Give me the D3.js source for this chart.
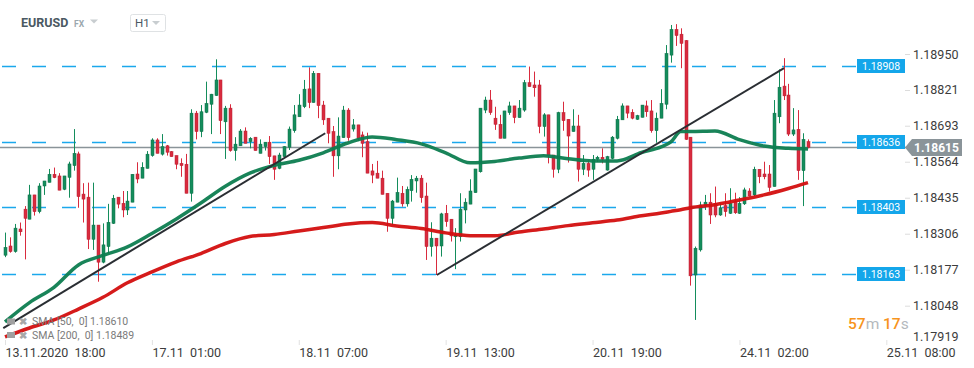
<!DOCTYPE html>
<html>
<head>
<meta charset="utf-8">
<script src="https://cdn.jsdelivr.net/npm/d3@7"></script>
<style>
body { margin: 0; background: #fff; font-family: Roboto, "Noto Sans", sans-serif; }
</style>
</head>
<body>
<script>
// EURUSD H1 candles, 13.11.2020 18:00 onwards (one entry per hour)
var open = [1.18229,1.18262,1.18242,1.18323,1.18394,1.18358,1.18445,1.18385,1.18477,1.18490,
1.18519,1.18513,1.18465,1.18508,1.18550,1.18592,1.18448,1.18437,1.18286,1.18337,
1.18204,1.18260,1.18343,1.18437,1.18415,1.18391,1.18419,1.18520,1.18505,1.18540,
1.18586,1.18642,1.18591,1.18621,1.18600,1.18586,1.18558,1.18555,1.18451,1.18738,
1.18672,1.18741,1.18770,1.18801,1.18857,1.18707,1.18756,1.18604,1.18621,1.18674,
1.18636,1.18652,1.18594,1.18618,1.18634,1.18585,1.18540,1.18582,1.18616,1.18675,
1.18725,1.18761,1.18825,1.18776,1.18881,1.18767,1.18720,1.18672,1.18585,1.18650,
1.18749,1.18681,1.18696,1.18660,1.18636,1.18531,1.18523,1.18505,1.18451,1.18361,
1.18419,1.18451,1.18413,1.18460,1.18495,1.18505,1.18441,1.18260,1.18290,1.18262,
1.18379,1.18358,1.18295,1.18295,1.18391,1.18412,1.18453,1.18528,1.18749,1.18785,
1.18720,1.18698,1.18648,1.18740,1.18764,1.18722,1.18749,1.18847,1.18839,1.18839,
1.18690,1.18732,1.18588,1.18537,1.18740,1.18716,1.18672,1.18692,1.18537,1.18558,
1.18537,1.18573,1.18580,1.18534,1.18576,1.18648,1.18714,1.18764,1.18741,1.18716,
1.18723,1.18764,1.18746,1.18675,1.18720,1.18770,1.18946,1.19038,1.19021,1.18998,
1.18652,1.18158,1.18248,1.18405,1.18419,1.18415,1.18373,1.18407,1.18379,1.18421,
1.18379,1.18413,1.18459,1.18445,1.18537,1.18520,1.18520,1.18475,1.18725,1.18835,
1.18803,1.18663,1.18680,1.18532,1.18636];
var high = [1.18310,1.18293,1.18341,1.18346,1.18405,1.18481,1.18445,1.18487,1.18495,1.18538,
1.18543,1.18523,1.18513,1.18564,1.18681,1.18600,1.18487,1.18489,1.18489,1.18337,
1.18343,1.18413,1.18445,1.18437,1.18459,1.18459,1.18519,1.18562,1.18562,1.18602,
1.18648,1.18648,1.18663,1.18624,1.18602,1.18586,1.18576,1.18592,1.18752,1.18746,
1.18767,1.18851,1.18807,1.18931,1.18857,1.18764,1.18770,1.18652,1.18681,1.18687,
1.18652,1.18652,1.18644,1.18634,1.18656,1.18585,1.18596,1.18620,1.18690,1.18767,
1.18806,1.18857,1.18902,1.18889,1.18881,1.18782,1.18720,1.18692,1.18723,1.18764,
1.18756,1.18717,1.18696,1.18672,1.18668,1.18556,1.18567,1.18532,1.18451,1.18427,
1.18507,1.18477,1.18475,1.18516,1.18513,1.18516,1.18489,1.18347,1.18290,1.18381,
1.18409,1.18358,1.18326,1.18451,1.18433,1.18501,1.18538,1.18756,1.18797,1.18821,
1.18761,1.18732,1.18746,1.18779,1.18764,1.18785,1.18857,1.18905,1.18887,1.18857,
1.18738,1.18732,1.18588,1.18743,1.18779,1.18716,1.18752,1.18732,1.18588,1.18570,
1.18588,1.18585,1.18612,1.18585,1.18656,1.18728,1.18773,1.18764,1.18752,1.18732,
1.18767,1.18783,1.18785,1.18740,1.18824,1.18982,1.19054,1.19057,1.19042,1.19000,
1.18652,1.18260,1.18421,1.18445,1.18451,1.18475,1.18415,1.18451,1.18469,1.18453,
1.18437,1.18471,1.18469,1.18546,1.18537,1.18564,1.18552,1.18785,1.18895,1.18935,
1.18843,1.18756,1.18749,1.18666,1.18644];
var low = [1.18222,1.18238,1.18238,1.18299,1.18214,1.18358,1.18371,1.18379,1.18445,1.18490,
1.18505,1.18462,1.18462,1.18435,1.18532,1.18399,1.18346,1.18251,1.18248,1.18134,
1.18200,1.18236,1.18341,1.18397,1.18365,1.18373,1.18419,1.18487,1.18505,1.18540,
1.18582,1.18594,1.18586,1.18586,1.18582,1.18537,1.18510,1.18451,1.18421,1.18644,
1.18652,1.18738,1.18663,1.18800,1.18663,1.18574,1.18600,1.18568,1.18621,1.18630,
1.18612,1.18604,1.18594,1.18604,1.18556,1.18499,1.18537,1.18582,1.18606,1.18668,
1.18725,1.18756,1.18756,1.18776,1.18720,1.18696,1.18630,1.18510,1.18537,1.18650,
1.18639,1.18672,1.18638,1.18580,1.18523,1.18487,1.18505,1.18447,1.18313,1.18337,
1.18419,1.18403,1.18403,1.18421,1.18453,1.18417,1.18212,1.18224,1.18158,1.18224,
1.18331,1.18278,1.18179,1.18278,1.18343,1.18412,1.18453,1.18525,1.18738,1.18732,
1.18678,1.18648,1.18648,1.18732,1.18702,1.18722,1.18743,1.18833,1.18797,1.18666,
1.18654,1.18558,1.18507,1.18523,1.18675,1.18561,1.18672,1.18493,1.18516,1.18510,
1.18499,1.18563,1.18558,1.18532,1.18573,1.18644,1.18714,1.18720,1.18716,1.18714,
1.18723,1.18725,1.18668,1.18632,1.18720,1.18752,1.18919,1.18979,1.18899,1.18642,
1.18120,1.17997,1.18242,1.18391,1.18341,1.18365,1.18370,1.18367,1.18377,1.18377,
1.18377,1.18409,1.18439,1.18441,1.18487,1.18501,1.18457,1.18475,1.18702,1.18785,
1.18656,1.18656,1.18499,1.18405,1.18612];
var close = [1.18257,1.18242,1.18326,1.18313,1.18361,1.18445,1.18385,1.18477,1.18495,1.18519,
1.18507,1.18462,1.18513,1.18556,1.18594,1.18439,1.18430,1.18286,1.18337,1.18204,
1.18266,1.18347,1.18433,1.18412,1.18391,1.18423,1.18519,1.18502,1.18544,1.18591,
1.18642,1.18594,1.18618,1.18598,1.18582,1.18555,1.18550,1.18451,1.18738,1.18672,
1.18743,1.18773,1.18806,1.18857,1.18711,1.18756,1.18604,1.18627,1.18674,1.18630,
1.18648,1.18604,1.18627,1.18634,1.18582,1.18537,1.18588,1.18618,1.18681,1.18732,
1.18767,1.18824,1.18776,1.18881,1.18765,1.18714,1.18666,1.18585,1.18656,1.18749,
1.18650,1.18696,1.18648,1.18630,1.18523,1.18516,1.18505,1.18447,1.18361,1.18423,
1.18454,1.18413,1.18465,1.18501,1.18505,1.18435,1.18260,1.18290,1.18262,1.18377,
1.18349,1.18298,1.18302,1.18394,1.18419,1.18459,1.18538,1.18756,1.18785,1.18740,
1.18698,1.18648,1.18746,1.18764,1.18722,1.18756,1.18847,1.18833,1.18829,1.18690,
1.18732,1.18585,1.18537,1.18740,1.18711,1.18656,1.18692,1.18537,1.18558,1.18534,
1.18573,1.18580,1.18573,1.18582,1.18652,1.18716,1.18764,1.18738,1.18720,1.18729,
1.18767,1.18743,1.18675,1.18720,1.18773,1.18952,1.19038,1.19016,1.18988,1.18644,
1.18155,1.18254,1.18409,1.18419,1.18373,1.18373,1.18399,1.18385,1.18415,1.18381,
1.18415,1.18463,1.18441,1.18537,1.18510,1.18510,1.18472,1.18738,1.18831,1.18800,
1.18663,1.18678,1.18532,1.18644,1.18615];

// moving averages at these candle positions
var smaIdx = [0,5,10,15,20,25,30,35,40,45,50,55,60,65,70,75,80,85,90,95,100,105,110,115,120,125,130,134,136,138,140,145,150,155,160,164];
var sma50 = [1.17990,1.18059,1.18114,1.18194,1.18228,1.18259,1.18307,1.18359,1.18416,1.18476,1.18523,1.18551,1.18569,1.18596,1.18631,1.18653,1.18643,1.18628,1.18596,1.18560,1.18565,1.18577,1.18585,1.18575,1.18567,1.18567,1.18597,1.18617,1.18635,1.18672,1.18672,1.18674,1.18643,1.18620,1.18612,1.18610];
var sma200 = [1.17936,1.17968,1.17997,1.18036,1.18078,1.18130,1.18169,1.18205,1.18235,1.18271,1.18296,1.18303,1.18316,1.18328,1.18341,1.18346,1.18334,1.18325,1.18309,1.18299,1.18299,1.18312,1.18323,1.18335,1.18345,1.18355,1.18370,1.18380,1.18386,1.18392,1.18399,1.18410,1.18427,1.18445,1.18468,1.18489];

// hand-drawn trend lines: [candle index, price]
var trendA = [[-0.35, 1.17968], [65.4, 1.18666]];
var trendB = [[88.2, 1.18158], [159.1, 1.18899]];

var levels = [1.18908, 1.18636, 1.18403, 1.18163];
var lastPrice = 1.18615;

var yTicks = [1.18950, 1.18821, 1.18693, 1.18564, 1.18435, 1.18306, 1.18177, 1.18048, 1.17919];
var xTickIdx = [0, 30, 60, 90, 120, 150, 180];
var xTickLabels = ["13.11.2020  18:00", "17.11  01:00", "18.11  07:00", "19.11  13:00", "20.11  19:00", "24.11  02:00", "25.11  08:00"];

var W = 974, H = 368;
var up = "#148d5c", down = "#d92b3e";

var svg = d3.select("body").append("svg")
    .attr("width", W)
    .attr("height", H)
    .style("display", "block");

var x = d3.scaleLinear().domain([0, 164]).range([5, 808]);
var y = d3.scaleLinear().domain([1.17919, 1.18950]).range([341.7, 54]);

// dashed levels
svg.selectAll(".level")
    .data(levels)
    .enter()
    .append("line")
    .attr("class", "level")
    .attr("x1", 2).attr("x2", 856)
    .attr("y1", function(d){ return Math.round(y(d)) + 0.5; })
    .attr("y2", function(d){ return Math.round(y(d)) + 0.5; })
    .style("stroke", "#1ba8ec")
    .style("stroke-width", 1.3)
    .style("stroke-dasharray", "14,16");

// last price line
svg.append("line")
    .attr("x1", 0).attr("x2", 906)
    .attr("y1", y(lastPrice)).attr("y2", y(lastPrice))
    .style("stroke", "#8a9499")
    .style("stroke-width", 1.5);

// candles
var candle = svg.selectAll(".candle")
    .data(open)
    .enter()
    .append("g")
    .attr("class", "candle");

candle.append("line")
    .attr("x1", function(d, i){ return Math.round(x(i)) + 0.5; })
    .attr("x2", function(d, i){ return Math.round(x(i)) + 0.5; })
    .attr("y1", function(d, i){ return y(high[i]); })
    .attr("y2", function(d, i){ return y(low[i]); })
    .style("stroke", function(d, i){ return close[i] >= d ? up : down; })
    .style("stroke-width", 1);

candle.append("rect")
    .attr("x", function(d, i){ return Math.round(x(i)) - 1; })
    .attr("width", 3)
    .attr("y", function(d, i){ return y(Math.max(d, close[i])); })
    .attr("height", function(d, i){ return Math.max(1.5, Math.abs(y(d) - y(close[i]))); })
    .style("fill", function(d, i){ return close[i] >= d ? up : down; })
    .style("stroke", function(d, i){ return close[i] >= d ? "#0e6e47" : "#b81f30"; })
    .style("stroke-width", 0.5);

// moving averages
var smaLine = d3.line()
    .x(function(d){ return x(d[0]); })
    .y(function(d){ return y(d[1]); })
    .curve(d3.curveMonotoneX);

svg.append("path")
    .datum(smaIdx.map(function(d, i){ return [d, sma200[i]]; }))
    .attr("d", smaLine)
    .style("fill", "none")
    .style("stroke", "#d30f0f")
    .style("stroke-width", 3.5)
    .style("stroke-opacity", 0.95);

svg.append("path")
    .datum(smaIdx.map(function(d, i){ return [d, sma50[i]]; }))
    .attr("d", smaLine)
    .style("fill", "none")
    .style("stroke", "#0d7d50")
    .style("stroke-width", 3.5)
    .style("stroke-opacity", 0.95);

// trend lines
svg.selectAll(".trend")
    .data([trendA, trendB])
    .enter()
    .append("path")
    .attr("class", "trend")
    .attr("d", d3.line().x(function(d){ return x(d[0]); }).y(function(d){ return y(d[1]); }))
    .style("fill", "none")
    .style("stroke", "#2a2e33")
    .style("stroke-width", 2);

// right price axis
var yAxis = svg.append("g")
    .attr("class", "axis")
    .attr("transform", "translate(905,0)")
    .call(d3.axisRight(y).tickValues(yTicks).tickSize(5).tickPadding(3).tickFormat(d3.format(".5f")));
yAxis.select(".domain").remove();
yAxis.selectAll(".tick line").style("stroke", "#dcdcdc");
yAxis.selectAll(".tick text")
    .style("font-family", "Roboto, sans-serif")
    .style("font-size", "12.5px")
    .style("fill", "#3c3c3c");
yAxis.selectAll(".tick")
    .filter(function(d){ return d === 1.17919; })
    .attr("transform", "translate(0,337)")
    .select("line").remove();

// level labels
var lvl = svg.selectAll(".lvlLabel")
    .data(levels)
    .enter()
    .append("g")
    .attr("class", "lvlLabel")
    .attr("transform", function(d){ return "translate(857," + Math.round(y(d)) + ")"; });
lvl.append("rect")
    .attr("x", 0).attr("y", -7)
    .attr("width", 48).attr("height", 14)
    .style("fill", "#14a6ea");
lvl.append("text")
    .attr("x", 5).attr("y", 4)
    .style("font-size", "10.5px")
    .style("fill", "#fff")
    .text(function(d){ return d3.format(".5f")(d); });

// last price tag
var ly = y(lastPrice);
svg.append("path")
    .attr("d", "M905," + ly + "L912," + (ly - 8.5) + "H962V" + (ly + 8.5) + "H912Z")
    .style("fill", "#8a9499");
svg.append("text")
    .attr("x", 914).attr("y", ly + 4.5)
    .style("font-size", "12px")
    .style("font-weight", "bold")
    .style("fill", "#fff")
    .text(d3.format(".5f")(lastPrice));

// time axis
var xAxis = svg.append("g")
    .attr("transform", "translate(0,340)")
    .call(d3.axisBottom(x).tickValues(xTickIdx).tickSize(5).tickFormat(function(d, i){ return xTickLabels[i]; }));
xAxis.select(".domain").remove();
xAxis.selectAll(".tick line").style("stroke", "#e2e2e2");
xAxis.selectAll(".tick text")
    .attr("text-anchor", "start")
    .attr("x", 0)
    .style("white-space", "pre")
    .style("font-family", "Roboto, sans-serif")
    .style("font-size", "12.5px")
    .style("fill", "#3c3c3c");

// indicator legend
var legend = svg.selectAll(".legend")
    .data(["SMA [50,  0] 1.18610", "SMA [200,  0] 1.18489"])
    .enter()
    .append("g")
    .attr("class", "legend")
    .attr("transform", function(d, i){ return "translate(0," + (321.5 + i * 13.5) + ")"; });
legend.append("rect")
    .attr("x", 7).attr("y", -3).attr("width", 8).attr("height", 6)
    .style("fill", "#a0a0a0");
legend.append("text")
    .attr("x", 19).attr("y", 3.5)
    .style("font-size", "10px")
    .style("font-weight", "bold")
    .style("fill", "#a8a8a8")
    .text("\u2716");
legend.append("text")
    .attr("x", 32).attr("y", 3.5)
    .style("font-size", "10.5px")
    .style("white-space", "pre")
    .style("fill", "#7a7a7a")
    .text(function(d){ return d; });

// countdown
var cd = svg.append("text")
    .attr("x", 848).attr("y", 329)
    .style("font-size", "15.5px");
cd.append("tspan").style("fill", "#f7941d").style("font-weight", "500").text("57");
cd.append("tspan").style("fill", "#b4b9bd").text("m ");
cd.append("tspan").style("fill", "#f7941d").style("font-weight", "500").text("17");
cd.append("tspan").style("fill", "#b4b9bd").text("s");

// header
svg.append("text")
    .attr("x", 21).attr("y", 27)
    .style("font-size", "12.5px")
    .style("font-weight", "bold")
    .style("fill", "#4b5962")
    .text("EURUSD");
svg.append("text")
    .attr("x", 74).attr("y", 27)
    .style("font-size", "8.5px")
    .style("font-weight", "bold")
    .style("fill", "#9ba7ae")
    .text("FX");
svg.append("path")
    .attr("d", "M90,19.5h8l-4,4z")
    .style("fill", "#c8cdd0");
svg.append("rect")
    .attr("x", 130.5).attr("y", 14.5)
    .attr("width", 35).attr("height", 17).attr("rx", 2)
    .style("fill", "#fff")
    .style("stroke", "#dfe2e4");
svg.append("text")
    .attr("x", 135).attr("y", 27)
    .style("font-size", "11.5px")
    .style("fill", "#4b5962")
    .text("H1");
svg.append("path")
    .attr("d", "M152,21h8l-4,4z")
    .style("fill", "#c8cdd0");
</script>
</body>
</html>
